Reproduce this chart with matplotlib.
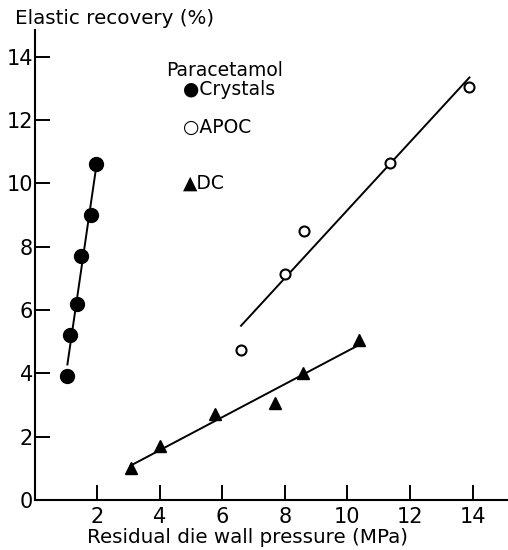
import matplotlib.pyplot as plt
import numpy as np

# Paracetamol data
crystals_x = [1.05, 1.14, 1.37, 1.47, 1.79, 1.98]
crystals_y = [3.9, 5.2, 6.2, 7.7, 9.0, 10.6]

apoc_x = [6.6, 8.0, 8.6, 11.35, 13.9]
apoc_y = [4.75, 7.15, 8.5, 10.65, 13.05]

dc_x = [3.07, 4.02, 5.76, 7.68, 8.58, 10.37]
dc_y = [1.0, 1.7, 2.7, 3.05, 4.0, 5.05]

x_ticks = [2, 4, 6, 8, 10, 12, 14]
y_ticks = [0, 2, 4, 6, 8, 10, 12, 14]

plt.rcParams['font.family'] = ['DejaVu Sans']

fig = plt.figure(figsize=(5.08, 5.5), dpi=100)
ax = fig.add_axes([0.068, 0.091, 0.93, 0.855])


# least squares line drawn over the range of each series
def fit_line(x, y):
    k, b = np.polyfit(x, y, 1)
    xs = np.array([min(x), max(x)])
    ax.plot(xs, k * xs + b, color='black', lw=1.4)


fit_line(crystals_x, crystals_y)
fit_line(apoc_x, apoc_y)
fit_line(dc_x, dc_y)

ax.plot(crystals_x, crystals_y, 'o', color='black', ms=10, ls='none')
ax.plot(apoc_x, apoc_y, 'o', mfc='white', mec='black', mew=1.5, ms=7.2, ls='none')
ax.plot(dc_x, dc_y, '^', color='black', ms=8, ls='none')

ax.set_xlim(0, 15.1)
ax.set_ylim(0, 14.85)
ax.set_xticks(x_ticks)
ax.set_yticks(y_ticks)
ax.tick_params(direction='in', length=11, width=1.4, labelsize=15)
ax.tick_params(axis='x', pad=5)
ax.tick_params(axis='y', pad=1)
for lab in ax.get_xticklabels() + ax.get_yticklabels():
    lab.set_family(['Liberation Sans Narrow', 'DejaVu Sans'])
for s in ['top', 'right']:
    ax.spines[s].set_visible(False)
for s in ['left', 'bottom']:
    ax.spines[s].set_linewidth(1.5)

# legend written as text
ax.text(4.2, 13.55, 'Paracetamol', fontsize=13.5, va='center')
ax.text(4.75, 12.95, '\u25cfCrystals', fontsize=13.5, va='center')
ax.text(4.75, 11.75, '\u25cbAPOC', fontsize=13.5, va='center')
ax.text(4.75, 10.0, '\u25b2DC', fontsize=13.5, va='center')

fig.text(0.03, 0.967, 'Elastic recovery (%)', fontsize=14.3, va='center')
fig.text(0.487, 0.022, 'Residual die wall pressure (MPa)', fontsize=14.3,
         ha='center', va='center')

fig.savefig('out.png', dpi=100)
